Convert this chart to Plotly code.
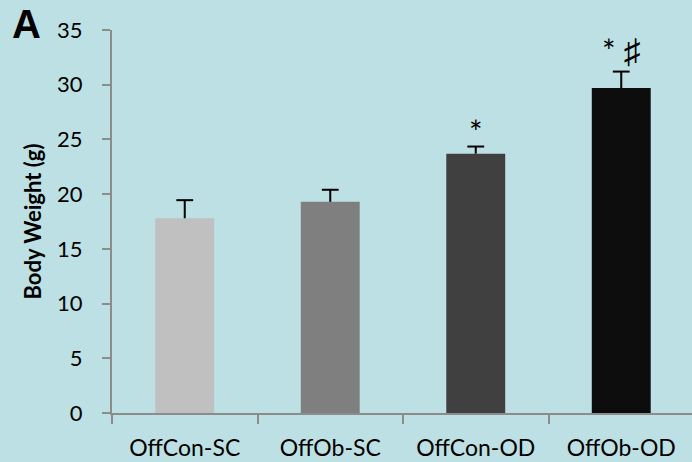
import plotly.graph_objects as go

categories = ["OffCon-SC", "OffOb-SC", "OffCon-OD", "OffOb-OD"]
values = [17.8, 19.3, 23.7, 29.7]
errors = [1.65, 1.1, 0.65, 1.5]
bar_colors = ["#c0c0c0", "#7f7f7f", "#404040", "#0d0d0d"]
sig_star = ["", "", "*", "*"]
sig_hash = ["", "", "", "♯"]
y_ticks = [0, 5, 10, 15, 20, 25, 30, 35]

BG = "#bce0e4"
AX = "#8c8c8c"
FONT = "Lato, 'Open Sans', sans-serif"

tops = [v + e for v, e in zip(values, errors)]

fig = go.Figure()
fig.add_trace(go.Bar(
    x=categories, y=values,
    marker=dict(color=bar_colors, line=dict(width=0)),
    error_y=dict(type="data", array=errors, symmetric=False, arrayminus=[0] * 4,
                 color="black", thickness=2, width=0),
    width=0.405,
))
# error bar caps (upper only)
fig.add_trace(go.Scatter(
    x=categories, y=tops, mode="markers",
    marker=dict(symbol="line-ew", size=12, line=dict(color="black", width=2)),
    hoverinfo="skip",
))

for c, t, s, h in zip(categories, tops, sig_star, sig_hash):
    if s or h:
        txt = s
        if h:
            txt += " <span style='font-size:34px'>" + h + "</span>"
        fig.add_annotation(x=c, y=t, text=txt, showarrow=False,
                           yanchor="bottom", yshift=0 if h else -6,
                           font=dict(family=FONT, size=32, color="black"))

L, T, B = 112, 30, 49
W, H = 692, 462
pw = W - L
ph = H - T - B
fig.add_annotation(xref="paper", yref="paper", x=(26 - L) / pw, y=(T + ph - 24) / ph,
                   text="<b>A</b>", showarrow=False, xanchor="center", yanchor="middle",
                   font=dict(family="'Liberation Sans', Arial, sans-serif", size=40, color="black"))

fig.update_layout(
    width=W, height=H,
    margin=dict(l=L, r=0, t=T, b=B),
    paper_bgcolor=BG, plot_bgcolor=BG,
    showlegend=False,
    font=dict(family=FONT, size=22, color="black"),
    xaxis=dict(
        range=[-0.5, -0.5 + pw / 145.5],
        showline=True, linecolor=AX, linewidth=2,
        ticks="outside", tickson="boundaries", ticklen=9, tickcolor=AX, tickwidth=2,
        showgrid=False, zeroline=False,
        tickfont=dict(family=FONT, size=23, color="black"),
        ticklabelstandoff=13,
    ),
    yaxis=dict(
        range=[0, 35], tickvals=y_ticks,
        showline=True, linecolor=AX, linewidth=2,
        ticks="outside", ticklen=8, tickcolor=AX, tickwidth=2,
        showgrid=False, zeroline=False,
        tickfont=dict(family=FONT, size=22, color="black"),
        ticklabelstandoff=15,
        title=dict(text="<b>Body Weight (g)</b>", standoff=9,
                   font=dict(family=FONT, size=22, color="black")),
    ),
)

fig.write_html("out.html", config={"displayModeBar": False},
               post_script="document.body.style.margin='0';")
